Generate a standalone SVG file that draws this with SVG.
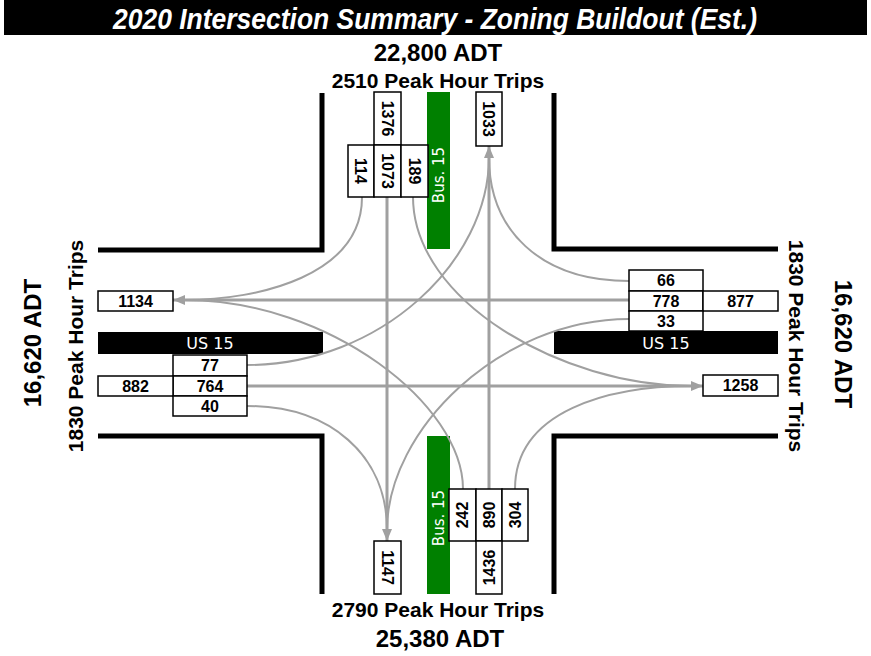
<svg xmlns="http://www.w3.org/2000/svg" width="871" height="656" viewBox="0 0 871 656">
<defs>
<style>
.bx{fill:#fff;stroke:#000;stroke-width:1.5}
.n{font-family:"Liberation Sans",Arial,sans-serif;font-weight:bold;font-size:16px;fill:#000;text-anchor:middle}
.h{font-family:"Liberation Sans",Arial,sans-serif;font-weight:bold;fill:#000;text-anchor:middle}
.rd{fill:none;stroke:#000;stroke-width:5}
.lbl{font-family:"DejaVu Sans","Noto Sans",sans-serif;fill:#fff;text-anchor:middle}
.st{fill:none;stroke:#a0a0a0;stroke-width:3}
.cv{fill:none;stroke:#a0a0a0;stroke-width:2}
</style>
<marker id="ah" markerUnits="userSpaceOnUse" markerWidth="13" markerHeight="11" refX="12" refY="5" orient="auto">
<path d="M0,0 L12,5 L0,10 z" fill="#a0a0a0"/>
</marker>
</defs>
<rect width="871" height="656" fill="#fff"/>
<g id="title">
<rect x="4" y="0" width="863" height="35" fill="#000"/>
<text x="435" y="29" font-family="Liberation Sans,Arial,sans-serif" font-weight="bold" font-style="italic" font-size="30" fill="#fff" text-anchor="middle" textLength="644" lengthAdjust="spacingAndGlyphs">2020 Intersection Summary - Zoning Buildout (Est.)</text>
</g>
<g id="labels">
<text class="h" x="438" y="61" font-size="24">22,800 ADT</text>
<text class="h" x="438" y="88" font-size="21">2510 Peak Hour Trips</text>
<text class="h" x="438" y="617" font-size="21">2790 Peak Hour Trips</text>
<text class="h" x="440" y="647" font-size="24">25,380 ADT</text>
<text class="h" font-size="24" transform="translate(32,343) rotate(-90)" y="8.6">16,620 ADT</text>
<text class="h" font-size="21" transform="translate(75,346) rotate(-90)" y="7.5">1830 Peak Hour Trips</text>
<text class="h" font-size="21" transform="translate(796,346) rotate(90)" y="7.5">1830 Peak Hour Trips</text>
<text class="h" font-size="24" transform="translate(844,344) rotate(90)" y="8.6">16,620 ADT</text>
</g>
<g id="roads">
<path class="rd" d="M322,93 V250 H98"/>
<path class="rd" d="M554,93 V249 H778"/>
<path class="rd" d="M98,436 H322 V594"/>
<path class="rd" d="M778,436 H554 V594"/>
<g id="us15-west"><rect x="98" y="332" width="225" height="22" fill="#000"/><text class="lbl" x="210" y="349" font-size="16">US 15</text></g>
<g id="us15-east"><rect x="554" y="331" width="224" height="23" fill="#000"/><text class="lbl" x="666" y="348.5" font-size="16">US 15</text></g>
<g id="bus-north"><rect x="427" y="92" width="23" height="157" fill="#008000"/><text class="lbl" font-size="15" transform="translate(438.5,175) rotate(-90)" y="5.5">Bus. 15</text></g>
<g id="bus-south"><rect x="427" y="436" width="23" height="158" fill="#008000"/><text class="lbl" font-size="15" transform="translate(438.5,518) rotate(-90)" y="5.5">Bus. 15</text></g>
</g>
<g id="connectors">
<path class="st" d="M387,197 V541" marker-end="url(#ah)"/>
<path class="st" d="M489,489 V146" marker-end="url(#ah)"/>
<path class="st" d="M629,300 H173" marker-end="url(#ah)"/>
<path class="st" d="M247,386 H703" marker-end="url(#ah)"/>
<path class="cv" d="M362,197 C362,275 260,300 184,300"/>
<path class="cv" d="M463,489 C463,405 330,300 184,300"/>
<path class="cv" d="M629,281 C540,281 489,230 489,157"/>
<path class="cv" d="M247,365 C380,365 489,262 489,157"/>
<path class="cv" d="M413,197 C413,300 560,386 692,386"/>
<path class="cv" d="M515,489 C515,410 610,386 692,386"/>
<path class="cv" d="M629,319 C500,319 387,430 387,530"/>
<path class="cv" d="M247,406 C330,406 387,455 387,530"/>
</g>
<g id="n1376"><rect class="bx" x="374" y="92" width="27" height="53"/><text class="n" transform="translate(387.5,118.5) rotate(90)" y="5.7">1376</text></g>
<g id="n114"><rect class="bx" x="348" y="145" width="26" height="52"/><text class="n" transform="translate(361,171) rotate(90)" y="5.7">114</text></g>
<g id="n1073"><rect class="bx" x="374" y="145" width="27" height="52"/><text class="n" transform="translate(387.5,171) rotate(90)" y="5.7">1073</text></g>
<g id="n189"><rect class="bx" x="401" y="145" width="27" height="52"/><text class="n" transform="translate(414.5,171) rotate(90)" y="5.7">189</text></g>
<g id="n1033"><rect class="bx" x="476" y="92" width="26" height="54"/><text class="n" transform="translate(489,119) rotate(90)" y="5.7">1033</text></g>
<g id="n1147"><rect class="bx" x="374" y="541" width="27" height="53"/><text class="n" transform="translate(387.5,567.5) rotate(90)" y="5.7">1147</text></g>
<g id="n242"><rect class="bx" x="449" y="489" width="27" height="52"/><text class="n" transform="translate(462.5,515) rotate(-90)" y="5.7">242</text></g>
<g id="n890"><rect class="bx" x="476" y="489" width="26" height="52"/><text class="n" transform="translate(489,515) rotate(-90)" y="5.7">890</text></g>
<g id="n304"><rect class="bx" x="502" y="489" width="26" height="52"/><text class="n" transform="translate(515,515) rotate(-90)" y="5.7">304</text></g>
<g id="n1436"><rect class="bx" x="476" y="541" width="26" height="53"/><text class="n" transform="translate(489,567.5) rotate(-90)" y="5.7">1436</text></g>
<g id="n1134"><rect class="bx" x="98" y="291" width="75" height="20"/><text class="n" x="135.5" y="306.7">1134</text></g>
<g id="n77"><rect class="bx" x="173" y="355" width="74" height="21"/><text class="n" x="210" y="371.2">77</text></g>
<g id="n764"><rect class="bx" x="173" y="376" width="74" height="20"/><text class="n" x="210" y="391.7">764</text></g>
<g id="n882"><rect class="bx" x="98" y="376" width="75" height="20"/><text class="n" x="135.5" y="391.7">882</text></g>
<g id="n40"><rect class="bx" x="173" y="396" width="74" height="20"/><text class="n" x="210" y="411.7">40</text></g>
<g id="n66"><rect class="bx" x="629" y="270" width="74" height="21"/><text class="n" x="666" y="286.2">66</text></g>
<g id="n778"><rect class="bx" x="629" y="291" width="74" height="20"/><text class="n" x="666" y="306.7">778</text></g>
<g id="n877"><rect class="bx" x="703" y="291" width="75" height="20"/><text class="n" x="740.5" y="306.7">877</text></g>
<g id="n33"><rect class="bx" x="629" y="311" width="74" height="20"/><text class="n" x="666" y="326.7">33</text></g>
<g id="n1258"><rect class="bx" x="703" y="375" width="75" height="21"/><text class="n" x="740.5" y="391.2">1258</text></g>
</svg>
